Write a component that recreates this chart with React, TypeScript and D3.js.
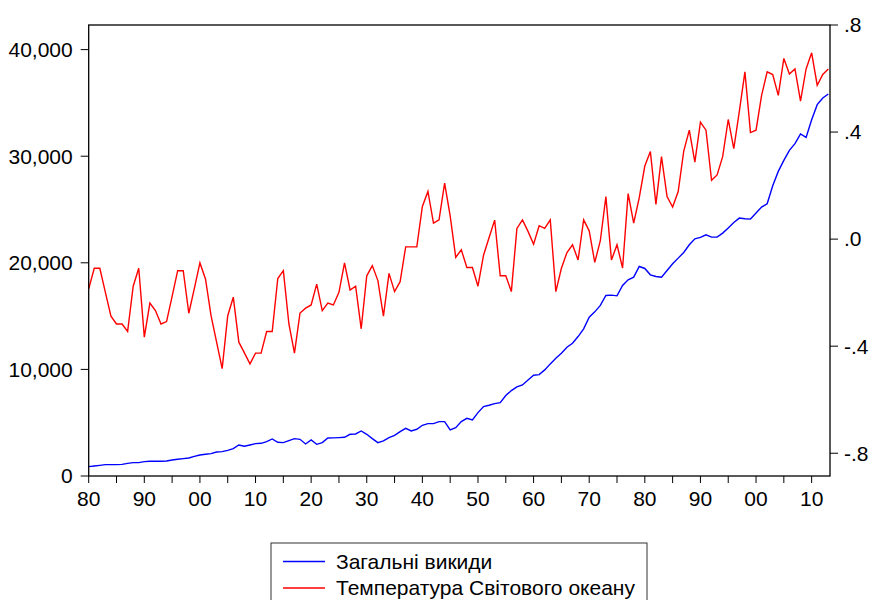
import React, { useEffect, useRef } from 'react';
import * as d3 from 'd3';

// роки спостережень
const years: number[] = d3.range(1880, 2014);

// загальні викиди (ліва вісь), 1880-2013
const emissions: number[] = [
  876, 940, 1000, 1064, 1064, 1064, 1095, 1189, 1252, 1252,
  1346, 1377, 1377, 1377, 1408, 1502, 1565, 1628, 1690, 1847,
  1972, 2035, 2097, 2254, 2285, 2410, 2567, 2911, 2786, 2911,
  3036, 3067, 3224, 3474, 3161, 3130, 3318, 3506, 3443, 3005,
  3380, 2974, 3130, 3568, 3580, 3600, 3631, 3912, 3944, 4226,
  3912, 3506, 3130, 3286, 3600, 3819, 4163, 4476, 4226, 4382,
  4758, 4914, 4914, 5102, 5102, 4319, 4539, 5102, 5415, 5258,
  5947, 6510, 6636, 6792, 6886, 7543, 8013, 8357, 8545, 9014,
  9453, 9515, 9953, 10517, 11049, 11518, 12082, 12457, 13083, 13800,
  14900, 15400, 16000, 16933, 16965, 16902, 17872, 18404, 18655, 19656,
  19469, 18874, 18717, 18655, 19281, 19907, 20439, 20971, 21691, 22254,
  22380, 22630, 22411, 22411, 22786, 23256, 23788, 24195, 24132, 24101,
  24664, 25228, 25541, 27231, 28577, 29610, 30549, 31175, 32083, 31770,
  33428, 34837, 35463, 35839,
];

// температура Світового океану (права вісь), 1880-2013
const oceanTemp: number[] = [
  -0.186, -0.109, -0.109, -0.199, -0.288, -0.317, -0.317, -0.345, -0.176, -0.109,
  -0.366, -0.239, -0.267, -0.317, -0.308, -0.214, -0.118, -0.118, -0.277, -0.184,
  -0.089, -0.149, -0.286, -0.385, -0.484, -0.286, -0.217, -0.385, -0.425, -0.466,
  -0.426, -0.426, -0.345, -0.345, -0.147, -0.118, -0.317, -0.426, -0.276, -0.258,
  -0.246, -0.168, -0.267, -0.239, -0.246, -0.199, -0.089, -0.19, -0.176, -0.335,
  -0.137, -0.099, -0.155, -0.288, -0.128, -0.196, -0.159, -0.029, -0.029, -0.029,
  0.122, 0.178, 0.06, 0.072, 0.209, 0.087, -0.068, -0.04, -0.106, -0.106,
  -0.176, -0.06, 0.006, 0.071, -0.137, -0.137, -0.196, 0.04, 0.072, 0.029,
  -0.019, 0.05, 0.04, 0.072, -0.196, -0.109, -0.05, -0.021, -0.078, 0.072,
  0.031, -0.087, -0.006, 0.159, -0.078, -0.021, -0.108, 0.17, 0.06, 0.155,
  0.273, 0.327, 0.13, 0.308, 0.159, 0.12, 0.178, 0.329, 0.407, 0.288,
  0.437, 0.407, 0.22, 0.24, 0.308, 0.447, 0.338, 0.478, 0.625, 0.398,
  0.407, 0.537, 0.625, 0.615, 0.537, 0.675, 0.617, 0.636, 0.516, 0.636,
  0.696, 0.575, 0.615, 0.636,
];

const leftTicks = [0, 10000, 20000, 30000, 40000];
const rightTicks = [-0.8, -0.4, 0, 0.4, 0.8];
const yearLabels = [1880, 1890, 1900, 1910, 1920, 1930, 1940, 1950, 1960, 1970, 1980, 1990, 2000, 2010];

const seriesNames = ['Загальні викиди', 'Температура Світового океану'];
const seriesColors = ['#0000ff', '#ff0000'];

const FONT = 'Arial, "Liberation Sans", sans-serif';
const FS = '21px';

const App = () => {
  const svgRef = useRef<SVGSVGElement>(null);

  useEffect(() => {
    const svg = d3.select(svgRef.current);
    svg.selectAll('*').remove();

    const left = 88.7, right = 830, top = 25, bottom = 476;

    const x = d3.scaleLinear().domain([1880, 2013.3]).range([left, right]);
    const yL = d3.scaleLinear().domain([0, 42310]).range([bottom, top]);
    const yR = d3.scaleLinear().domain([-0.885, 0.8]).range([bottom, top]);

    svg.append('rect').attr('width', 870).attr('height', 600).attr('fill', '#fff');

    // лінії рядів
    const lineL = d3.line<number>().x((d, i) => x(years[i])).y(d => yL(d));
    const lineR = d3.line<number>().x((d, i) => x(years[i])).y(d => yR(d));

    svg.append('path').datum(emissions).attr('d', lineL)
      .attr('fill', 'none').attr('stroke', seriesColors[0]).attr('stroke-width', 1.4);
    svg.append('path').datum(oceanTemp).attr('d', lineR)
      .attr('fill', 'none').attr('stroke', seriesColors[1]).attr('stroke-width', 1.4);

    // рамка
    svg.append('rect')
      .attr('x', left).attr('y', top)
      .attr('width', right - left).attr('height', bottom - top)
      .attr('fill', 'none').attr('stroke', '#000').attr('stroke-width', 1.3);

    // ліва вісь
    const gL = svg.append('g');
    leftTicks.forEach(t => {
      gL.append('line').attr('x1', left - 8).attr('x2', left)
        .attr('y1', yL(t)).attr('y2', yL(t)).attr('stroke', '#000').attr('stroke-width', 1);
      gL.append('text').attr('x', left - 16).attr('y', yL(t)).attr('dy', '0.35em')
        .attr('text-anchor', 'end').style('font-family', FONT).style('font-size', FS)
        .text(d3.format(',')(t));
    });

    // права вісь
    const gR = svg.append('g');
    rightTicks.forEach(t => {
      gR.append('line').attr('x1', right).attr('x2', right + 8)
        .attr('y1', yR(t)).attr('y2', yR(t)).attr('stroke', '#000').attr('stroke-width', 1);
      const s = t.toFixed(1).replace('0.', '.');
      gR.append('text').attr('x', right + 14).attr('y', yR(t)).attr('dy', '0.35em')
        .style('font-family', FONT).style('font-size', FS)
        .text(s === '-.0' ? '.0' : s);
    });

    // нижня вісь
    const gB = svg.append('g');
    d3.range(1880, 2014, 5).forEach(yr => {
      gB.append('line').attr('x1', x(yr)).attr('x2', x(yr))
        .attr('y1', bottom).attr('y2', bottom + 7).attr('stroke', '#000').attr('stroke-width', 1);
    });
    yearLabels.forEach(yr => {
      gB.append('text').attr('x', x(yr)).attr('y', bottom + 30)
        .attr('text-anchor', 'middle').style('font-family', FONT).style('font-size', FS)
        .text(String(yr % 100).padStart(2, '0'));
    });

    // легенда
    const lg = svg.append('g');
    lg.append('rect').attr('x', 271).attr('y', 543).attr('width', 376).attr('height', 80)
      .attr('fill', '#fff').attr('stroke', '#333').attr('stroke-width', 1);
    seriesNames.forEach((name, i) => {
      const yy = 561.5 + i * 26.5;
      lg.append('line').attr('x1', 283).attr('x2', 325).attr('y1', yy).attr('y2', yy)
        .attr('stroke', seriesColors[i]).attr('stroke-width', 1.4);
      lg.append('text').attr('x', 336).attr('y', yy).attr('dy', '0.35em')
        .style('font-family', FONT).style('font-size', FS).text(name);
    });
  }, []);

  return (
    <svg ref={svgRef} width={870} height={600}
      style={{ position: 'absolute', left: 0, top: 0, display: 'block' }} />
  );
};

export default App;
